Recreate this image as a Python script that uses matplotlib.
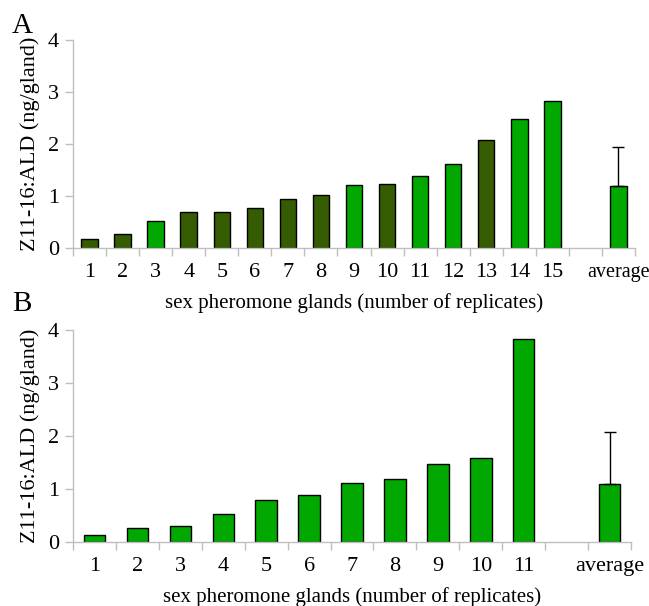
import matplotlib.pyplot as plt
import numpy as np

plt.rcParams['font.family'] = ['Liberation Serif', 'DejaVu Serif']

# panel A: 15 glands + average
labels_a = ['1', '2', '3', '4', '5', '6', '7', '8', '9', '10', '11', '12', '13', '14', '15', '', 'average']
values_a = [0.17, 0.26, 0.525, 0.69, 0.69, 0.77, 0.95, 1.01, 1.22, 1.24, 1.39, 1.62, 2.07, 2.49, 2.83, None, 1.19]
dark_a = [1, 1, 0, 1, 1, 1, 1, 1, 0, 1, 0, 0, 1, 0, 0, 0, 0]
err_a = 0.76

# panel B: 11 glands + average
labels_b = ['1', '2', '3', '4', '5', '6', '7', '8', '9', '10', '11', '', 'average']
values_b = [0.14, 0.27, 0.31, 0.53, 0.79, 0.89, 1.12, 1.19, 1.48, 1.58, 3.83, None, 1.10]
err_b = 0.98

BRIGHT = '#00a800'
DARK = '#355c00'
GRAY = '#bfbfbf'


def draw_panel(ax, labels, values, dark, err, last_size):
    x = np.arange(len(labels))
    for i, v in enumerate(values):
        if v is None:
            continue
        c = DARK if dark[i] else BRIGHT
        ax.bar(x[i], v, width=0.5, color=c, edgecolor='black', linewidth=1, zorder=2)
    ax.errorbar(x[-1], values[-1], yerr=[[0], [err]], fmt='none', ecolor='black',
                elinewidth=1, capsize=4, capthick=1, zorder=3)
    ax.set_xlim(-0.5, len(labels) - 0.5)
    ax.set_ylim(0, 4)
    ax.set_yticks([0, 1, 2, 3, 4])
    ax.set_xticks(x)
    ax.set_xticklabels(labels)
    ax.set_xticks(np.arange(len(labels) + 1) - 0.5, minor=True)
    ax.tick_params(axis='x', which='major', length=0, labelsize=16, pad=11)
    ax.tick_params(axis='x', which='minor', length=6, color=GRAY, width=1)
    ax.tick_params(axis='y', length=6, color=GRAY, width=1, labelsize=16, pad=4)
    # keep the last label inside the figure
    ax.get_xticklabels()[-1].set_fontsize(last_size)
    for s in ['top', 'right']:
        ax.spines[s].set_visible(False)
    for s in ['left', 'bottom']:
        ax.spines[s].set_color(GRAY)
        ax.spines[s].set_linewidth(1)
    ax.set_ylabel('Z11-16:ALD (ng/gland)', fontsize=16, labelpad=6)
    ax.set_xlabel('sex pheromone glands (number of replicates)', fontsize=15, labelpad=8)


fig = plt.figure(figsize=(6.49, 6.06), dpi=100)
W, H = 649, 606
ax_a = fig.add_axes([73 / W, 1 - 248 / H, (635 - 73) / W, (248 - 40) / H])
ax_b = fig.add_axes([73 / W, 1 - 542 / H, (631 - 73) / W, (542 - 330) / H])

draw_panel(ax_a, labels_a, values_a, dark_a, err_a, 14.5)
draw_panel(ax_b, labels_b, values_b, [0] * len(labels_b), err_b, 16)

fig.text(12 / W, 1 - 33 / H, 'A', fontsize=21, ha='left', va='baseline')
fig.text(12 / W, 1 - 311 / H, 'B', fontsize=21, ha='left', va='baseline')

fig.savefig('out.png', dpi=100)
